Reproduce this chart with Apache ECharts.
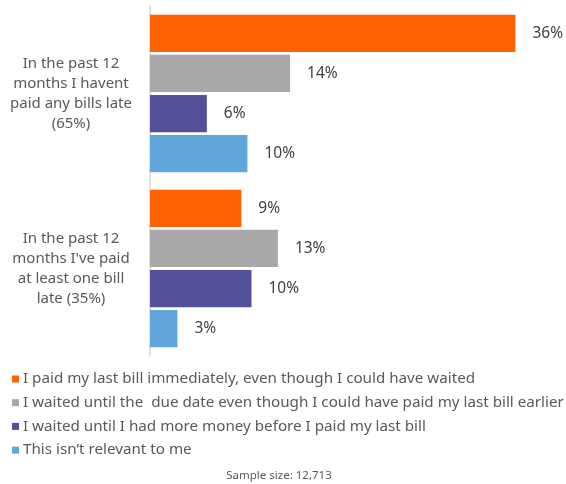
<!DOCTYPE html>
<html>
<head>
<meta charset="utf-8">
<script src="https://cdn.jsdelivr.net/npm/echarts@6/dist/echarts.min.js"></script>
<style>
html,body{margin:0;padding:0;background:#fff;}
#chart{width:566px;height:484px;}
</style>
</head>
<body>
<div id="chart"></div>
<script>
var categories = [
  "In the past 12\nmonths I havent\npaid any bills late\n(65%)",
  "In the past 12\nmonths I've paid\nat least one bill\nlate (35%)"
];
var seriesNames = [
  "I paid my last bill immediately, even though I could have waited",
  "I waited until the  due date even though I could have paid my last bill earlier",
  "I waited until I had more money before I paid my last bill",
  "This isn\u2019t relevant to me"
];
var paidImmediately = [36, 9.0];
var waitedUntilDue = [13.8, 12.6];
var waitedForMoney = [5.6, 10.0];
var notRelevant = [9.6, 2.7];
var footnote = "Sample size: 12,713";

var colors = ["#FF6200", "#A8A8A8", "#525199", "#60A6DA"];
var FONT = "Noto Sans";
var values = [paidImmediately, waitedUntilDue, waitedForMoney, notRelevant];

var chart = echarts.init(document.getElementById('chart'), null, {renderer: 'canvas'});
var series = seriesNames.map(function (name, i) {
  return {
    name: name,
    type: 'bar',
    data: values[i],
    barCategoryGap: '10%',
    barGap: '8%',
    itemStyle: {color: colors[i]},
    label: {
      show: true,
      position: 'right',
      distance: 17,
      color: '#404040',
      fontFamily: FONT,
      fontSize: 15.5,
      formatter: function (p) { return Math.round(p.value) + '%'; }
    }
  };
});

chart.setOption({
  animation: false,
  textStyle: {fontFamily: FONT},
  grid: {left: 150, right: 10, top: 6, height: 350},
  xAxis: {
    type: 'value', min: 0, max: 40, show: false
  },
  yAxis: {
    type: 'category',
    data: categories,
    inverse: true,
    axisLine: {show: true, lineStyle: {color: '#D6D6D6', width: 1.5}},
    axisTick: {show: false},
    axisLabel: {
      margin: 79,
      align: 'center',
      color: '#595959',
      fontFamily: FONT,
      fontSize: 15,
      lineHeight: 20
    }
  },
  legend: {
    orient: 'vertical',
    left: 12,
    top: 371,
    padding: 0,
    itemWidth: 7,
    itemHeight: 7,
    itemGap: 7.7,
    icon: 'rect',
    textStyle: {color: '#595959', fontFamily: FONT, fontSize: 15.2, lineHeight: 16, padding: [0,0,0,-1]},
    data: seriesNames
  },
  graphic: [{
    type: 'text',
    x: 279,
    y: 470,
    style: {text: footnote, fill: '#595959', font: '11.5px "Noto Sans"', textAlign: 'center'}
  }],
  series: series
});
</script>
</body>
</html>
